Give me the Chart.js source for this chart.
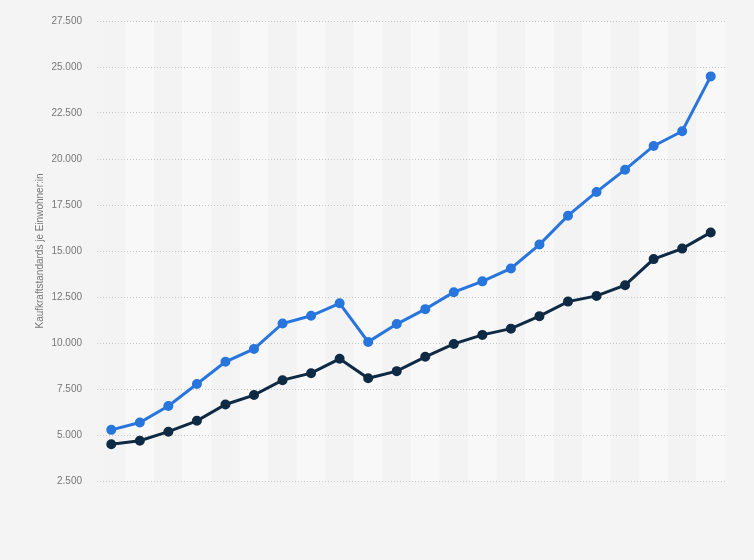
<!DOCTYPE html>
<html>
<head>
<meta charset="utf-8">
<script src="https://cdn.jsdelivr.net/npm/chart.js@4"></script>
<style>
  html, body { margin: 0; padding: 0; background: #f4f4f4; }
  #wrap { width: 754px; height: 560px; position: relative; }
</style>
</head>
<body>
<div id="wrap"><canvas id="chart"></canvas></div>
<script>
// Data
const years = ['2000', '2001', '2002', '2003', '2004', '2005', '2006', '2007', '2008', '2009', '2010',
  '2011', '2012', '2013', '2014', '2015', '2016', '2017', '2018', '2019', '2020', '2021'];
const seriesBlue = [5280, 5680, 6580, 7770, 8980, 9680, 11060, 11480, 12160, 10060, 11030,
  11840, 12760, 13350, 14050, 15350, 16920, 18210, 19420, 20710, 21510, 24490];
const seriesDark = [4500, 4690, 5180, 5770, 6660, 7170, 7980, 8360, 9140, 8080, 8470,
  9250, 9950, 10440, 10780, 11460, 12250, 12560, 13140, 14560, 15130, 16010];
const yTitle = 'Kaufkraftstandards je Einwohner:in';

// German thousands separator
const formatTick = (v) => String(v).replace(/\B(?=(\d{3})+(?!\d))/g, '.');

// Alternating column bands behind the lines
const bandPlugin = {
  id: 'bands',
  beforeDraw(chart) {
    const { ctx, chartArea, scales } = chart;
    const x = scales.x;
    const half = (x.getPixelForValue(1) - x.getPixelForValue(0)) / 2;
    ctx.save();
    years.forEach((label, i) => {
      const c = x.getPixelForValue(i);
      ctx.fillStyle = i % 2 === 1 ? '#f8f8f8' : '#f3f3f3';
      ctx.fillRect(c - half, chartArea.top, half * 2, chartArea.bottom - chartArea.top);
    });
    ctx.restore();
  }
};

new Chart(document.getElementById('chart'), {
  type: 'line',
  data: {
    labels: years,
    datasets: [
      {
        data: seriesBlue,
        borderColor: '#2876dd',
        backgroundColor: '#2876dd',
        borderWidth: 3,
        pointRadius: 3.5,
        pointHoverRadius: 3.5,
        tension: 0
      },
      {
        data: seriesDark,
        borderColor: '#0f2a44',
        backgroundColor: '#0f2a44',
        borderWidth: 3,
        pointRadius: 3.5,
        pointHoverRadius: 3.5,
        tension: 0
      }
    ]
  },
  options: {
    responsive: true,
    maintainAspectRatio: false,
    animation: false,
    layout: { padding: { top: 14, right: 29, bottom: 79, left: 0 } },
    plugins: {
      legend: { display: false },
      tooltip: { enabled: false }
    },
    scales: {
      x: {
        display: false,
        offset: true
      },
      y: {
        min: 2500,
        max: 27500,
        border: { display: false, dash: [1, 2] },
        grid: {
          color: '#c8c8c8',
          drawTicks: false
        },
        ticks: {
          stepSize: 2500,
          padding: 15,
          color: '#777777',
          font: { family: 'Liberation Sans, Arial, sans-serif', size: 10 },
          callback: (v) => formatTick(v)
        },
        title: {
          display: true,
          text: yTitle,
          color: '#777777',
          font: { family: 'Liberation Sans, Arial, sans-serif', size: 10 },
          padding: { top: 34, bottom: 0 }
        },
        afterFit(scale) { scale.width = 97; }
      }
    }
  },
  plugins: [bandPlugin]
});
</script>
</body>
</html>
